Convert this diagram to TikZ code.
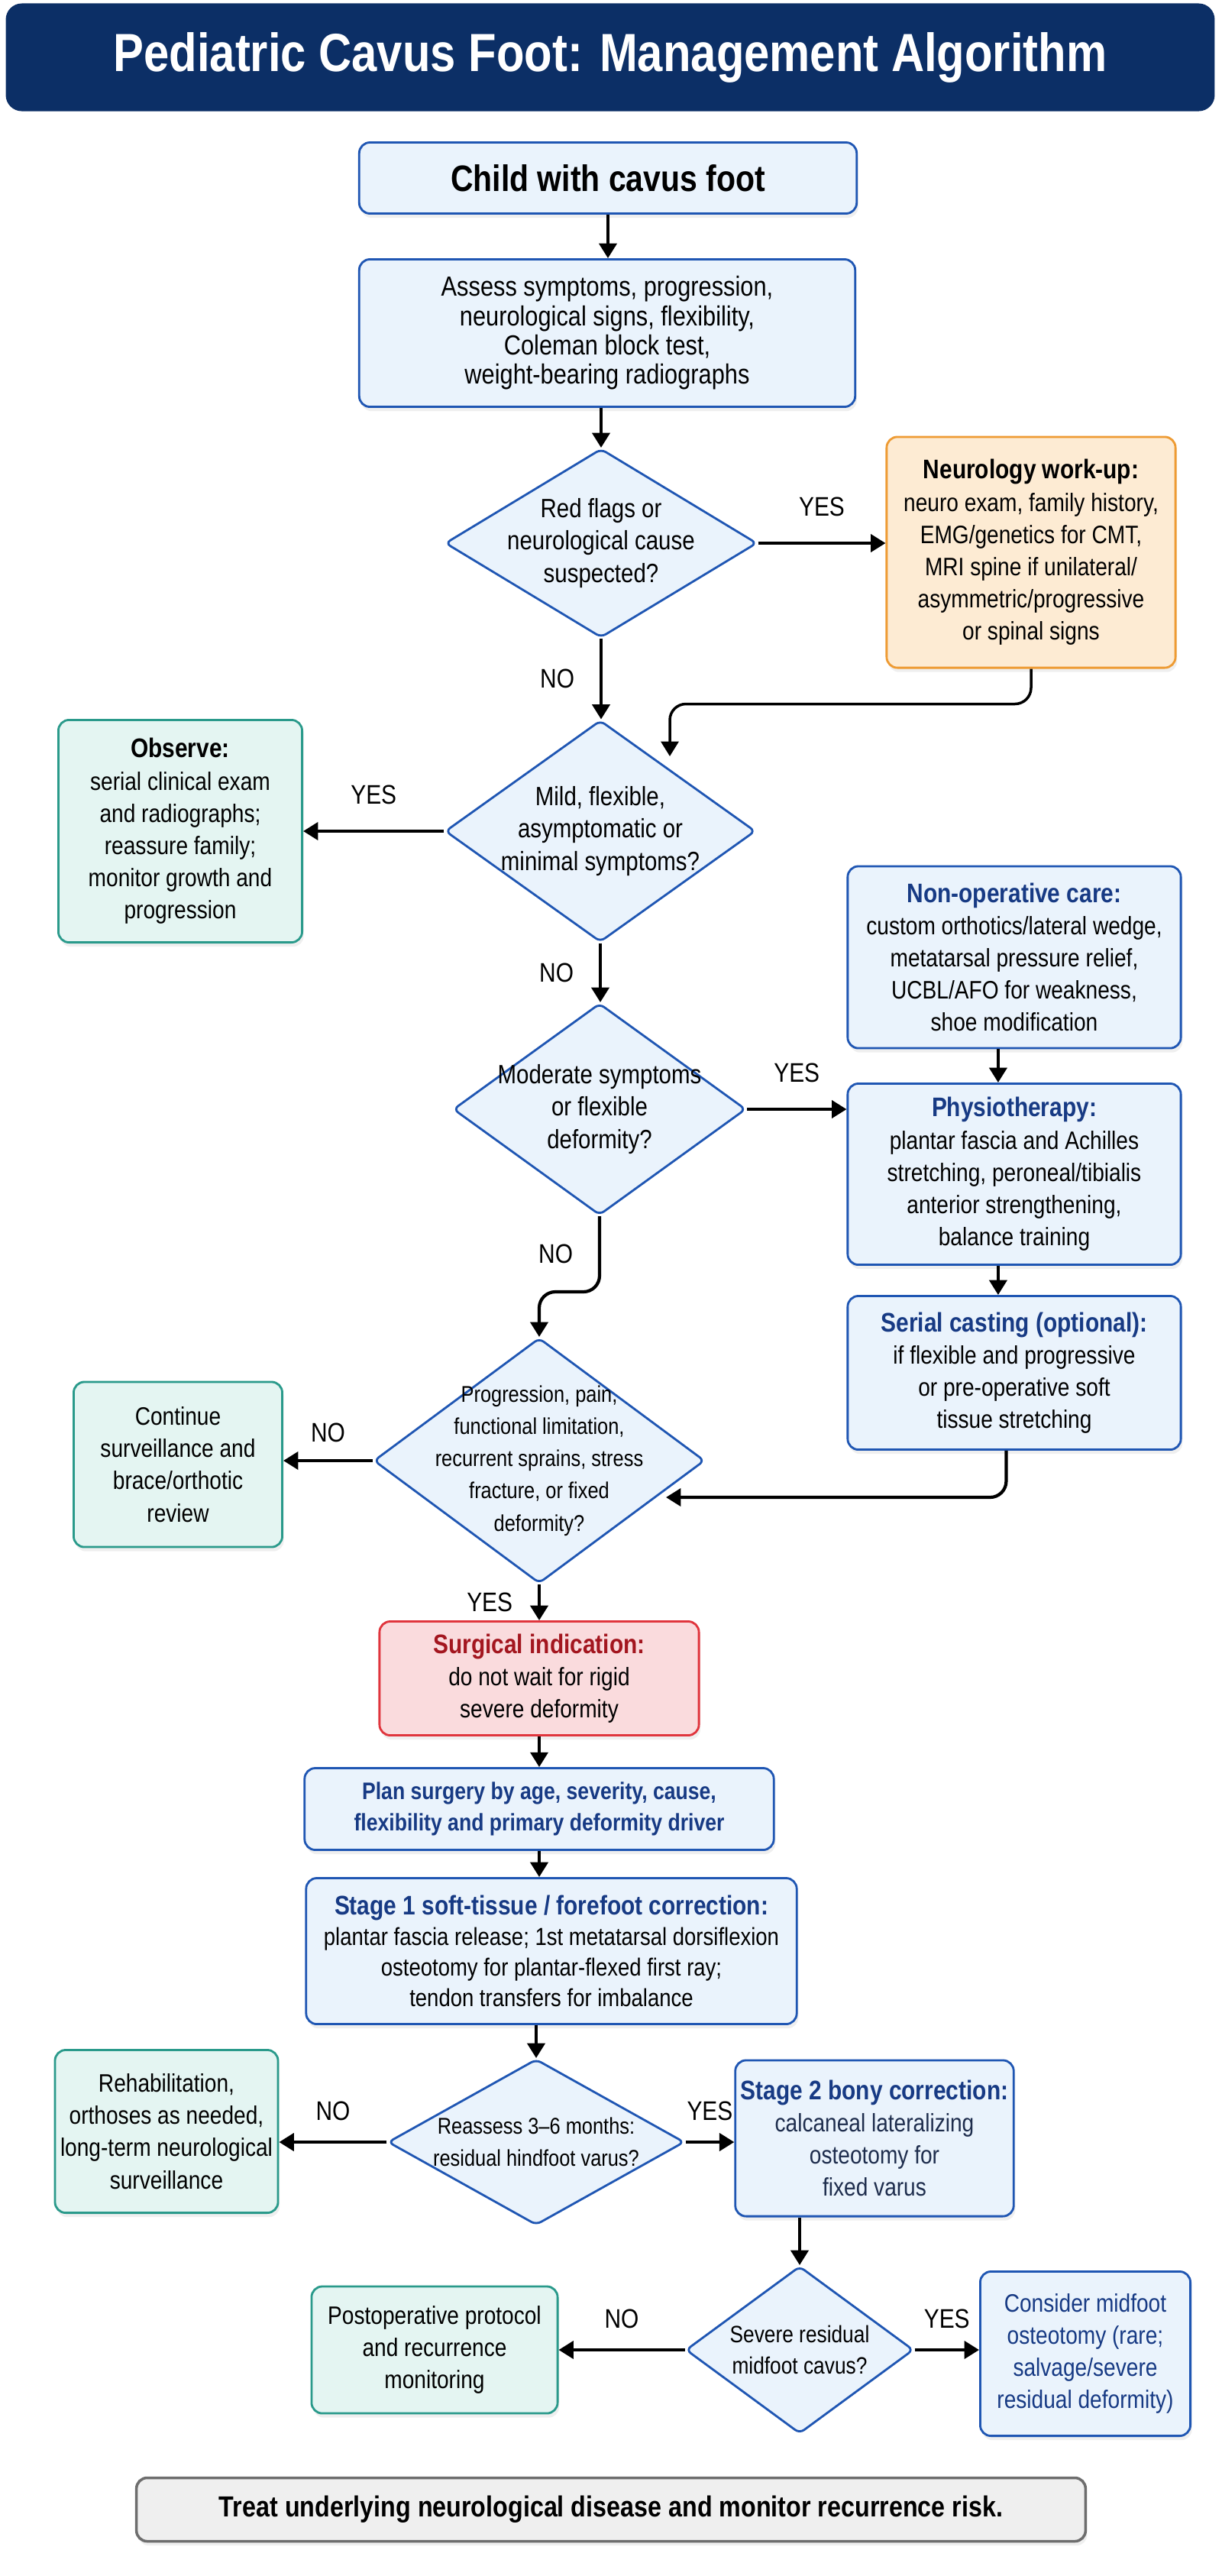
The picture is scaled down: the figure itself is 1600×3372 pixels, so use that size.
\documentclass[tikz,border=0pt]{standalone}
\usepackage{fontspec}
\setmainfont{Liberation Sans}[FakeStretch=0.85]
\usetikzlibrary{shapes.geometric,arrows.meta,shadows}

\definecolor{titlenavy}{HTML}{0C2F66}
\definecolor{boxline}{HTML}{1F56B3}
\definecolor{boxfill}{HTML}{EAF3FC}
\definecolor{headnavy}{HTML}{173A84}
\definecolor{tealline}{HTML}{2A9A8B}
\definecolor{tealfill}{HTML}{E4F5F2}
\definecolor{orangeline}{HTML}{EE9B33}
\definecolor{orangefill}{HTML}{FDEBD3}
\definecolor{redline}{HTML}{E0353D}
\definecolor{redfill}{HTML}{FADBDD}
\definecolor{redhead}{HTML}{A3161F}
\definecolor{greyline}{HTML}{6E6E6E}
\definecolor{greyfill}{HTML}{EFEFEF}
\definecolor{slatetext}{HTML}{1E2D4D}

\newcommand{\fs}[2]{\fontsize{#1}{#2}\selectfont}
\newcommand{\hd}[2]{{\fs{10}{12}\bfseries\color{#1}#2}}

\begin{document}
\begin{tikzpicture}[x=0.01cm, y=-0.01cm, >={Triangle[length=5.5pt,width=6.5pt]}]
    \tikzstyle{box}=[rectangle, rounded corners=4pt, draw=boxline, fill=boxfill, line width=0.8pt,
        align=center, inner sep=2pt, font=\fs{9.4}{12},
        drop shadow={shadow xshift=0.6pt, shadow yshift=-1.6pt, opacity=0.12}]
    \tikzstyle{teal box}=[box, draw=tealline, fill=tealfill]
    \tikzstyle{orange box}=[box, draw=orangeline, fill=orangefill]
    \tikzstyle{red box}=[box, draw=redline, fill=redfill]
    \tikzstyle{grey box}=[box, draw=greyline, fill=greyfill, line width=1pt]
    \tikzstyle{decision}=[diamond, draw=boxline, fill=boxfill, line width=0.8pt, rounded corners=2pt,
        align=center, inner sep=-8pt, font=\fs{9.85}{12}]
    \tikzstyle{title bar}=[rectangle, rounded corners=6pt, fill=titlenavy, text=white,
        font=\bfseries\fs{20}{22}]
    \tikzstyle{conn}=[->, line width=1.2pt]
    \tikzstyle{answer}=[font=\fs{10}{11}]

    \useasboundingbox (0,0) rectangle (1600,3372);
    \fill[white] (0,0) rectangle (1600,3372);

% Nodes
    \node[title bar, minimum width=15.82cm, minimum height=1.41cm] (title) at (799,75)
        {Pediatric Cavus Foot: Management Algorithm};

    % Assessment column
    \node[box, font=\bfseries\fs{13.7}{15}, minimum width=6.51cm, minimum height=0.93cm] (child) at (796,233)
        {Child with cavus foot};
    \node[box, font=\fs{10.3}{10.9}, minimum width=6.49cm, minimum height=1.93cm] (assess) at (795,436)
        {Assess symptoms, progression,\\ neurological signs, flexibility,\\ Coleman block test,\\ weight-bearing radiographs};
    \node[decision, minimum width=4.08cm, minimum height=2.47cm, shape aspect=1.65] (redflag) at (787,711)
        {Red flags or\\ neurological cause\\ suspected?};
    \node[orange box, minimum width=3.78cm, minimum height=3.02cm] (neuro) at (1350,723)
        {\hd{black}{Neurology work-up:}\\ neuro exam, family history,\\ EMG/genetics for CMT,\\ MRI spine if unilateral/\\ asymmetric/progressive\\ or spinal signs};
    \coordinate (mildin) at (877,990);

    % Conservative branch
    \node[decision, minimum width=4.06cm, minimum height=2.90cm, shape aspect=1.4] (mild) at (786,1088)
        {Mild, flexible,\\ asymptomatic or\\ minimal symptoms?};
    \node[teal box, minimum width=3.19cm, minimum height=2.91cm] (observe) at (236,1088)
        {\hd{black}{Observe:}\\ serial clinical exam\\ and radiographs;\\ reassure family;\\ monitor growth and\\ progression};
    \node[decision, minimum width=3.83cm, minimum height=2.77cm, shape aspect=1.38] (moderate) at (785,1452)
        {Moderate symptoms\\ or flexible\\ deformity?};
    \node[box, minimum width=4.36cm, minimum height=2.38cm] (nonop) at (1328,1253)
        {\hd{headnavy}{Non-operative care:}\\ custom orthotics/lateral wedge,\\ metatarsal pressure relief,\\ UCBL/AFO for weakness,\\ shoe modification};
    \node[box, minimum width=4.36cm, minimum height=2.37cm] (physio) at (1328,1537)
        {\hd{headnavy}{Physiotherapy:}\\ plantar fascia and Achilles\\ stretching, peroneal/tibialis\\ anterior strengthening,\\ balance training};
    \node[box, minimum width=4.36cm, minimum height=2.01cm] (casting) at (1328,1797)
        {\hd{headnavy}{Serial casting (optional):}\\ if flexible and progressive\\ or pre-operative soft\\ tissue stretching};
    \coordinate (progin) at (872,1960);

    % Surgical decision
    \node[decision, font=\fs{8.5}{12}, minimum width=4.33cm, minimum height=3.21cm, shape aspect=1.35] (progress) at (706,1912)
        {Progression, pain,\\ functional limitation,\\ recurrent sprains, stress\\ fracture, or fixed\\ deformity?};
    \node[teal box, minimum width=2.73cm, minimum height=2.16cm] (surveil) at (233,1917)
        {Continue\\ surveillance and\\ brace/orthotic\\ review};
    \node[red box, minimum width=4.18cm, minimum height=1.49cm] (surgery) at (706,2197)
        {\hd{redhead}{Surgical indication:}\\ do not wait for rigid\\ severe deformity};
    \node[box, font=\bfseries\fs{8.9}{11.6}, text=headnavy, minimum width=6.14cm, minimum height=1.07cm] (plan) at (706,2368)
        {Plan surgery by age, severity, cause,\\ flexibility and primary deformity driver};
    \node[box, font=\fs{9.2}{11.4}, minimum width=6.42cm, minimum height=1.91cm] (stage1) at (722,2554)
        {\hd{headnavy}{Stage 1 soft-tissue / forefoot correction:}\\ plantar fascia release; 1st metatarsal dorsiflexion\\ osteotomy for plantar-flexed first ray;\\ tendon transfers for imbalance};

    % Staged correction
    \node[decision, font=\fs{8.5}{11.8}, minimum width=3.88cm, minimum height=2.17cm, shape aspect=1.79] (reassess) at (702,2804)
        {Reassess 3–6 months:\\ residual hindfoot varus?};
    \node[teal box, minimum width=2.91cm, minimum height=2.13cm] (rehab) at (218,2790)
        {Rehabilitation,\\ orthoses as needed,\\ long-term neurological\\ surveillance};
    \node[box, text=slatetext, minimum width=3.06cm, minimum height=2.04cm] (stage2) at (1145,2799)
        {\hd{headnavy}{Stage 2 bony correction:}\\ calcaneal lateralizing\\ osteotomy for\\ fixed varus};
    \node[decision, font=\fs{8.8}{11.8}, minimum width=2.98cm, minimum height=2.19cm, shape aspect=1.36] (midfoot) at (1047,3076)
        {Severe residual\\ midfoot cavus?};
    \node[teal box, minimum width=3.22cm, minimum height=1.66cm] (postop) at (569,3076)
        {Postoperative protocol\\ and recurrence\\ monitoring};
    \node[box, text=headnavy, minimum width=2.75cm, minimum height=2.15cm] (consider) at (1421,3081)
        {Consider midfoot\\ osteotomy (rare;\\ salvage/severe\\ residual deformity)};

    % Footer
    \node[grey box, font=\bfseries\fs{10.8}{12}, minimum width=12.42cm, minimum height=0.83cm] (treat) at (800,3285)
        {Treat underlying neurological disease and monitor recurrence risk.};

% Paths
    \draw[conn] (child.south) -- (child.south |- assess.north);
    \draw[conn] (redflag.north |- assess.south) -- (redflag.north);
    \draw[conn] (redflag.east) -- node[answer, above=6pt] {YES} (redflag.east -| neuro.west);
    \draw[conn] (redflag.south) -- node[answer, left=6pt] {NO} (redflag.south |- mild.north);
    \draw[conn, line width=1pt, rounded corners=6pt] (neuro.south) -- ++(0,46) -| (mildin);

    \draw[conn] (mild.west) -- node[answer, above=6pt] {YES} (mild.west -| observe.east);
    \draw[conn] (mild.south) -- node[answer, left=6pt] {NO} (mild.south |- moderate.north);
    \draw[conn] (moderate.east) -- node[answer, above=6pt] {YES} (moderate.east -| physio.west);
    \draw[conn] ([xshift=-6pt]nonop.south) -- ([xshift=-6pt]physio.north);
    \draw[conn] ([xshift=-6pt]physio.south) -- ([xshift=-6pt]casting.north);
    \draw[conn, rounded corners=6pt] (moderate.south) -- node[answer, left=6pt] {NO} ++(0,99) -| (progress.north);
    \draw[conn, rounded corners=6pt] ([xshift=-3pt]casting.south) |- (progin);

    \draw[conn] (progress.west) -- node[answer, above=3pt] {NO} (progress.west -| surveil.east);
    \draw[conn] (progress.south) -- node[answer, left=6pt] {YES} (surgery.north);
    \draw[conn] (surgery) -- (plan);
    \draw[conn] (plan.south) -- (plan.south |- stage1.north);
    \draw[conn] (reassess.north |- stage1.south) -- (reassess.north);

    \draw[conn] (reassess.west) -- node[answer, above=4pt] {NO} (reassess.west -| rehab.east);
    \draw[conn] (reassess.east) -- node[answer, above=4pt] {YES} (reassess.east -| stage2.west);
    \draw[conn] (midfoot.north |- stage2.south) -- (midfoot.north);
    \draw[conn] (midfoot.west) -- node[answer, above=4pt] {NO} (midfoot.west -| postop.east);
    \draw[conn] (midfoot.east) -- node[answer, above=4pt] {YES} (midfoot.east -| consider.west);
\end{tikzpicture}
\end{document}
